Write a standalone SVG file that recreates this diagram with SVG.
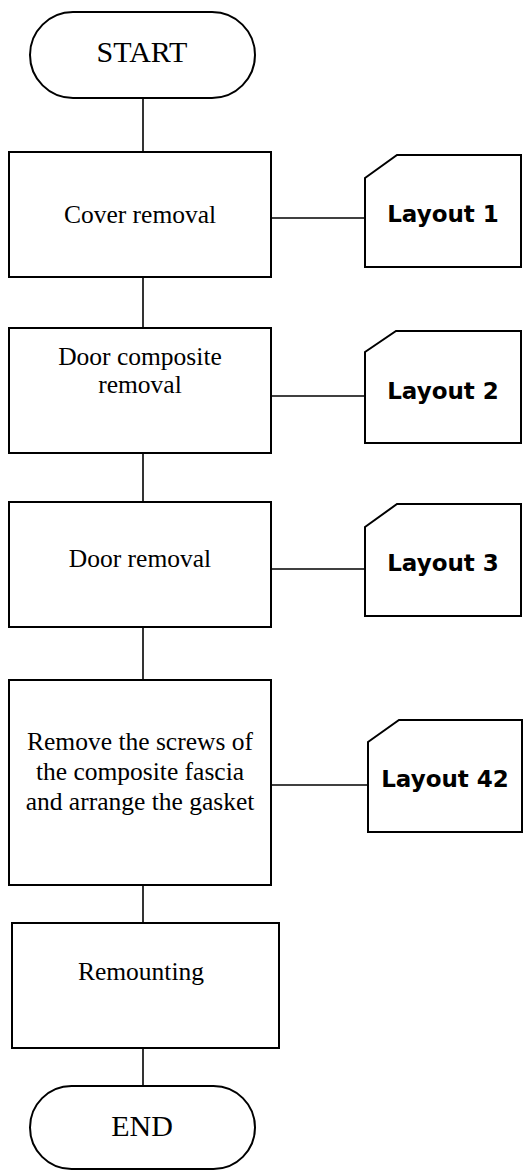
<svg xmlns="http://www.w3.org/2000/svg" width="532" height="1170" viewBox="0 0 532 1170">
<style>
.shape{fill:#fff;stroke:#000;stroke-width:2}
.conn{stroke:#000;stroke-width:1.6;fill:none}
.t{font-family:"Liberation Serif","Times New Roman",serif;font-size:25.5px;fill:#000;text-anchor:middle}
.term{font-family:"Liberation Serif","Times New Roman",serif;font-size:30px;fill:#000;text-anchor:middle}
.lay{font-family:"DejaVu Sans",Verdana,sans-serif;font-weight:bold;font-size:23px;fill:#000;text-anchor:middle}
</style>
<rect width="532" height="1170" fill="#fff"/>
<g id="connectors">
<line class="conn" x1="143" y1="98" x2="143" y2="152"/>
<line class="conn" x1="143" y1="277" x2="143" y2="328"/>
<line class="conn" x1="143" y1="453" x2="143" y2="502"/>
<line class="conn" x1="143" y1="627" x2="143" y2="680"/>
<line class="conn" x1="143" y1="885" x2="143" y2="923"/>
<line class="conn" x1="143" y1="1048" x2="143" y2="1086"/>
<line class="conn" x1="271" y1="218" x2="365" y2="218"/>
<line class="conn" x1="271" y1="396" x2="365" y2="396"/>
<line class="conn" x1="271" y1="569" x2="365" y2="569"/>
<line class="conn" x1="271" y1="785" x2="368" y2="785"/>
</g>
<g id="start">
<rect class="shape" x="30" y="12" width="225" height="86" rx="43" ry="43"/>
<text class="term" x="142" y="62">START</text>
</g>
<g id="cover-removal">
<rect class="shape" x="9" y="152" width="262" height="125"/>
<text class="t" x="140" y="223">Cover removal</text>
</g>
<g id="layout1">
<polygon class="shape" points="365,178 397,155 521,155 521,267 365,267"/>
<text class="lay" x="443" y="222">Layout 1</text>
</g>
<g id="door-composite-removal">
<rect class="shape" x="9" y="328" width="262" height="125"/>
<text class="t" x="140" y="365">Door composite</text>
<text class="t" x="140" y="393">removal</text>
</g>
<g id="layout2">
<polygon class="shape" points="365,352 396,331 521,331 521,443 365,443"/>
<text class="lay" x="443" y="399">Layout 2</text>
</g>
<g id="door-removal">
<rect class="shape" x="9" y="502" width="262" height="125"/>
<text class="t" x="140" y="567">Door removal</text>
</g>
<g id="layout3">
<polygon class="shape" points="365,527 397,504 521,504 521,616 365,616"/>
<text class="lay" x="443" y="571">Layout 3</text>
</g>
<g id="remove-screws">
<rect class="shape" x="9" y="680" width="262" height="205"/>
<text class="t" x="140" y="750">Remove the screws of</text>
<text class="t" x="140" y="780">the composite fascia</text>
<text class="t" x="140" y="810">and arrange the gasket</text>
</g>
<g id="layout42">
<polygon class="shape" points="368,742 399,720 522,720 522,832 368,832"/>
<text class="lay" x="445" y="787">Layout 42</text>
</g>
<g id="remounting">
<rect class="shape" x="12" y="923" width="267" height="125"/>
<text class="t" x="141" y="980">Remounting</text>
</g>
<g id="end">
<rect class="shape" x="30" y="1086" width="225" height="83" rx="41.5" ry="41.5"/>
<text class="term" x="142" y="1136">END</text>
</g>
</svg>
